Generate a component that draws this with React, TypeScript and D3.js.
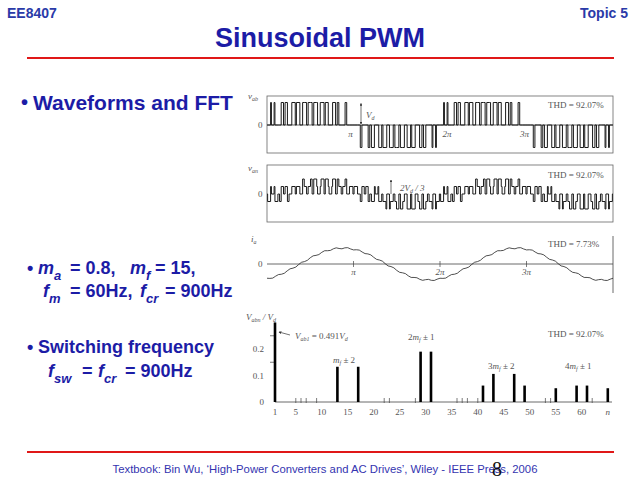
import React from 'react';
import * as d3 from 'd3';

// per-carrier-period half widths (deg) of the phase-a gate pulse, 15 carrier periods per cycle
const carrierDeg = 24;
const halfWidths = [4.52, 6.5, 8.4, 9.88, 10.69, 10.69, 9.88, 8.4, 6.5, 4.52, 2.79, 1.62, 1.2, 1.62, 2.79];
const phaseShift = 5; // 120 deg = 5 carrier periods

// load current i_a over one cycle, every 6 deg (per unit)
const iaCycle = [
  -0.89, -0.9, -0.88, -0.76, -0.66, -0.64, -0.58, -0.43, -0.3, -0.26,
  -0.19, -0.03, 0.11, 0.15, 0.23, 0.39, 0.51, 0.54, 0.59, 0.73,
  0.83, 0.83, 0.85, 0.95, 1.01, 0.97, 0.95, 1.01, 1.02, 0.94,
  0.88, 0.89, 0.87, 0.75, 0.65, 0.63, 0.57, 0.42, 0.29, 0.25,
  0.18, 0.02, -0.12, -0.16, -0.24, -0.4, -0.52, -0.55, -0.6, -0.74,
  -0.84, -0.84, -0.86, -0.96, -1.02, -0.98, -0.96, -1.02, -1.03, -0.95,
];

const piLabels = ['π', '2π', '3π'];

// spectrum of v_ab
const harmonics = [1, 13, 17, 29, 31, 41, 43, 47, 49, 55, 59, 61, 65];
const amplitudes = [0.491, 0.133, 0.133, 0.19, 0.19, 0.062, 0.106, 0.106, 0.062, 0.052, 0.062, 0.062, 0.052];
const xTickLabels = [1, 5, 10, 15, 20, 25, 30, 35, 40, 45, 50, 55, 60];
const minorStubs = [5, 6, 7, 9, 22, 23, 28, 36, 37, 38, 40, 53, 54, 62];
const yTickLabels = [0, 0.1, 0.2];
const yMinorTicks = [0.15, 0.25];

const BLUE = '#1c1ca6';
const SANS = '"Liberation Sans", Arial, sans-serif';
const SERIF = '"Liberation Serif", "DejaVu Serif", serif';

const xAng = d3.scaleLinear().domain([0, 720]).range([267, 613]);
const yAB = d3.scaleLinear().domain([-1, 1]).range([147.5, 102.5]);
const yAN = d3.scaleLinear().domain([-2, 2]).range([209, 179]);
const yIA = d3.scaleLinear().domain([-1, 1]).range([280, 248]);
const xH = d3.scaleLinear().domain([1, 65]).range([275, 607.8]);
const yH = d3.scaleLinear().domain([0, 0.3]).range([402, 322.5]).clamp(true);

function switching(levelOf: (s: number[]) => number): [number, number][] {
  const pts: [number, number][] = [];
  for (let k = 0; k < 30; k++) {
    const c = carrierDeg * k + carrierDeg / 2;
    const i = k % 15;
    const hs = [halfWidths[i], halfWidths[(i + 15 - phaseShift) % 15], halfWidths[(i + phaseShift) % 15]];
    const cuts = Array.from(new Set([c - carrierDeg / 2, c + carrierDeg / 2, ...hs.flatMap(h => [c - h, c + h])]))
      .sort((a, b) => a - b);
    for (let j = 0; j < cuts.length - 1; j++) {
      const m = (cuts[j] + cuts[j + 1]) / 2;
      const s = hs.map(h => (Math.abs(m - c) < h ? 1 : 0));
      pts.push([cuts[j], levelOf(s)]);
    }
  }
  pts.push([720, pts[pts.length - 1][1]]);
  return pts;
}

const vab = switching(s => s[0] - s[1]);
const van = switching(s => 2 * s[0] - s[1] - s[2]);
const ia: [number, number][] = d3.range(0, 121).map(j => [j * 6, iaCycle[j % iaCycle.length]]);

const stepLine = (y: d3.ScaleLinear<number, number>) =>
  d3.line<[number, number]>().x(d => xAng(d[0])).y(d => y(d[1])).curve(d3.curveStepAfter);
const smoothLine = d3.line<[number, number]>().x(d => xAng(d[0])).y(d => yIA(d[1]));

const lbl = { fontFamily: SERIF, fontSize: 9, fill: '#555' } as const;

function Sub({ x, y, main, sub, size = 18, subSize = 13 }: any) {
  return (
    <text x={x} y={y} fontFamily={SANS} fontWeight="bold" fontStyle="italic" fontSize={size} fill={BLUE}>
      {main}
      <tspan dy={6} fontSize={subSize}>{sub}</tspan>
    </text>
  );
}

export default function App() {
  const txt = (x: number, y: number, s: string, size = 18) => (
    <text x={x} y={y} fontFamily={SANS} fontWeight="bold" fontSize={size} fill={BLUE}>{s}</text>
  );
  return (
    <svg width={640} height={480} style={{ position: 'absolute', left: 0, top: 0, background: '#fff' }}>
      <defs>
        <marker id="ah" viewBox="0 0 6 6" refX="5" refY="3" markerWidth="4" markerHeight="4" orient="auto-start-reverse">
          <path d="M0,0 L6,3 L0,6 z" fill="#333" />
        </marker>
      </defs>

      {/* header */}
      <text x={7} y={18} fontFamily={SANS} fontWeight="bold" fontSize={14} fill="#2a3aa8">EE8407</text>
      <text x={628} y={18} textAnchor="end" fontFamily={SANS} fontWeight="bold" fontSize={14} fill="#2a3aa8">Topic 5</text>
      <text x={320} y={47} textAnchor="middle" fontFamily={SANS} fontWeight="bold" fontSize={27} fill={BLUE}>Sinusoidal PWM</text>
      <line x1={27} x2={614} y1={58} y2={58} stroke="#e01818" strokeWidth={2} />

      {/* left text */}
      {txt(21, 109, '•', 20)}
      {txt(33, 110, 'Waveforms and FFT', 21)}
      {txt(27, 274, '•', 18)}
      <Sub x={38} y={274} main="m" sub="a" />
      {txt(70, 274, '= 0.8,')}
      <Sub x={130} y={274} main="m" sub="f" />
      {txt(155, 274, '= 15,')}
      <Sub x={43} y={297} main="f" sub="m" />
      {txt(70, 297, '= 60Hz,')}
      <Sub x={140} y={297} main="f" sub="cr" />
      {txt(165, 297, '= 900Hz')}
      {txt(27, 353, '•', 18)}
      {txt(38, 353, 'Switching frequency')}
      <Sub x={48} y={377} main="f" sub="sw" />
      {txt(82, 377, '=')}
      <Sub x={98} y={377} main="f" sub="cr" />
      {txt(125, 377, '= 900Hz')}

      {/* v_ab */}
      <rect x={267} y={96} width={346} height={57} fill="none" stroke="#666" strokeWidth={0.8} />
      <line x1={267} x2={613} y1={yAB(0)} y2={yAB(0)} stroke="#444" strokeWidth={0.8} />
      <path d={stepLine(yAB)(vab) || ''} fill="none" stroke="#1a1a1a" strokeWidth={1} />
      <text x={248} y={99} {...lbl} fontStyle="italic">v<tspan dy={2} fontSize={6}>ab</tspan></text>
      <text x={258} y={128} {...lbl}>0</text>
      {piLabels.map((p, i) => (
        <text key={p} x={xAng(180 * (i + 1)) + (i === 0 ? -3 : i === 1 ? 7 : -2)} y={137} {...lbl} textAnchor="middle" fontStyle="italic">{p}</text>
      ))}
      <line x1={361} x2={361} y1={yAB(0) - 1} y2={yAB(1) + 1} stroke="#333" strokeWidth={0.7} markerStart="url(#ah)" markerEnd="url(#ah)" />
      <text x={366} y={118} {...lbl} fontStyle="italic">V<tspan dy={2} fontSize={6}>d</tspan></text>
      <text x={548} y={108} {...lbl}>THD = 92.07%</text>

      {/* v_an */}
      <rect x={267} y={165} width={346} height={57} fill="none" stroke="#666" strokeWidth={0.8} />
      <path d={stepLine(yAN)(van) || ''} fill="none" stroke="#1a1a1a" strokeWidth={1} />
      <text x={248} y={171} {...lbl} fontStyle="italic">v<tspan dy={2} fontSize={6}>an</tspan></text>
      <text x={258} y={197} {...lbl}>0</text>
      <line x1={391} x2={391} y1={yAN(0)} y2={yAN(2) + 1} stroke="#333" strokeWidth={0.7} markerEnd="url(#ah)" />
      <text x={400} y={191} {...lbl} fontStyle="italic">2V<tspan dy={2} fontSize={6}>d</tspan><tspan dy={-2}> / 3</tspan></text>
      <text x={548} y={178} {...lbl}>THD = 92.07%</text>

      {/* i_a */}
      <line x1={267} x2={613} y1={yIA(0)} y2={yIA(0)} stroke="#444" strokeWidth={0.8} />
      <line x1={613} x2={613} y1={236} y2={293} stroke="#444" strokeWidth={0.8} />
      <path d={smoothLine(ia) || ''} fill="none" stroke="#222" strokeWidth={0.8} />
      {piLabels.map((p, i) => (
        <g key={p}>
          <line x1={xAng(180 * (i + 1))} x2={xAng(180 * (i + 1))} y1={yIA(0) - 3} y2={yIA(0) + 3} stroke="#444" strokeWidth={0.7} />
          <text x={xAng(180 * (i + 1))} y={275} {...lbl} textAnchor="middle" fontStyle="italic">{p}</text>
        </g>
      ))}
      <text x={251} y={242} {...lbl} fontStyle="italic">i<tspan dy={2} fontSize={6}>a</tspan></text>
      <text x={258} y={267} {...lbl}>0</text>
      <text x={548} y={247} {...lbl}>THD = 7.73%</text>

      {/* spectrum */}
      <line x1={xH(1)} x2={612} y1={yH(0)} y2={yH(0)} stroke="#444" strokeWidth={0.8} />
      <line x1={xH(1)} x2={xH(1)} y1={yH(0)} y2={yH(0.3)} stroke="#444" strokeWidth={0.8} />
      {yTickLabels.map(v => (
        <text key={v} x={264} y={yH(v) + 3} {...lbl} textAnchor="end">{v}</text>
      ))}
      {yMinorTicks.map(v => (
        <line key={v} x1={xH(1) - 5} x2={xH(1)} y1={yH(v)} y2={yH(v)} stroke="#444" strokeWidth={0.7} />
      ))}
      {xTickLabels.map(v => (
        <text key={v} x={xH(v)} y={415} {...lbl} textAnchor="middle">{v}</text>
      ))}
      <text x={xH(65)} y={415} {...lbl} textAnchor="middle" fontStyle="italic">n</text>
      {minorStubs.map(v => (
        <line key={v} x1={xH(v)} x2={xH(v)} y1={yH(0) - 4} y2={yH(0) + 1} stroke="#444" strokeWidth={0.7} />
      ))}
      {harmonics.map((h, i) => (
        <rect key={h} x={xH(h) - 1.3} y={yH(amplitudes[i])} width={2.6} height={yH(0) - yH(amplitudes[i])} fill="#000" />
      ))}
      <text x={246} y={320} {...lbl} fontStyle="italic">V<tspan dy={2} fontSize={6}>abn</tspan><tspan dy={-2}> / V</tspan><tspan dy={2} fontSize={6}>d</tspan></text>
      <line x1={290} x2={279} y1={335} y2={332} stroke="#333" strokeWidth={0.7} markerEnd="url(#ah)" />
      <text x={295} y={339} {...lbl} fontStyle="italic">V<tspan dy={2} fontSize={6}>ab1</tspan><tspan dy={-2} fontStyle="normal"> = 0.491</tspan><tspan>V</tspan><tspan dy={2} fontSize={6}>d</tspan></text>
      <text x={333} y={363} {...lbl} fontStyle="italic">m<tspan dy={2} fontSize={6}>f</tspan><tspan dy={-2} fontStyle="normal"> ± 2</tspan></text>
      <text x={408} y={340} {...lbl}>2<tspan fontStyle="italic">m</tspan><tspan dy={2} fontSize={6} fontStyle="italic">f</tspan><tspan dy={-2}> ± 1</tspan></text>
      <text x={488} y={369} {...lbl}>3<tspan fontStyle="italic">m</tspan><tspan dy={2} fontSize={6} fontStyle="italic">f</tspan><tspan dy={-2}> ± 2</tspan></text>
      <text x={565} y={369} {...lbl}>4<tspan fontStyle="italic">m</tspan><tspan dy={2} fontSize={6} fontStyle="italic">f</tspan><tspan dy={-2}> ± 1</tspan></text>
      <text x={548} y={337} {...lbl}>THD = 92.07%</text>

      {/* footer */}
      <line x1={27} x2={614} y1={452} y2={452} stroke="#e01818" strokeWidth={2} />
      <text x={325} y={473} textAnchor="middle" fontFamily={SANS} fontSize={11.3} fill="#3434b0">
        Textbook: Bin Wu, ‘High-Power Converters and AC Drives’, Wiley - IEEE Press, 2006
      </text>
      <text x={497} y={476} textAnchor="middle" fontFamily={SERIF} fontSize={20} fill="#111">8</text>
    </svg>
  );
}
